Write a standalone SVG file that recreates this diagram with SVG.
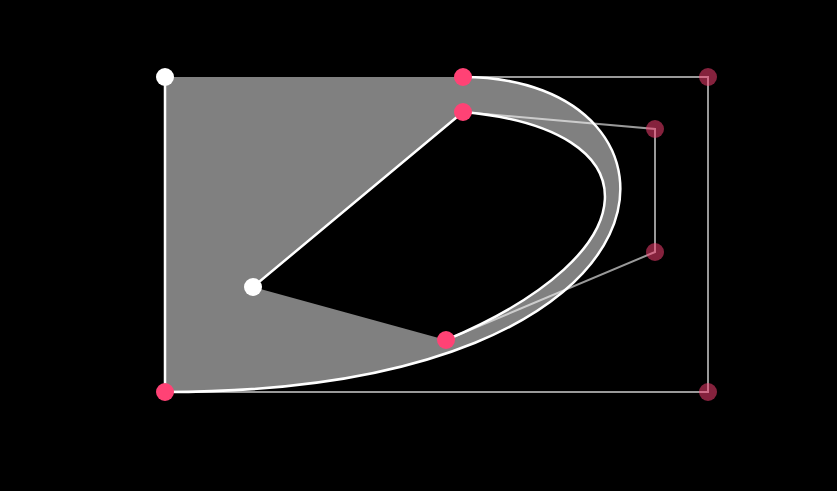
<svg xmlns="http://www.w3.org/2000/svg" width="837" height="491" viewBox="0 0 837 491">
<style>
.ctrl{fill:none;stroke:#fff;stroke-opacity:0.6;stroke-width:2}
.edge{fill:none;stroke:#fff;stroke-width:2.5;stroke-linecap:round}
.pt{fill:#ff4275}
.cp{fill:#ff4275;fill-opacity:0.52}
.wp{fill:#fff}
</style>
<rect width="837" height="491" fill="#000"/>
<g id="shape">
<path d="M165,77 L463,77 C708,77 708,392 165,392 Z M463,112 C655,129 655,252 446,340 L253,287 Z" fill="#808080" fill-rule="evenodd"/>
</g>
<g id="connectors">
<path class="ctrl" d="M463,77 L708,77 L708,392 L165,392"/>
<path class="ctrl" d="M463,112 L655,129 L655,252 L446,340"/>
<path class="edge" d="M463,77 C708,77 708,392 165,392"/>
<path class="edge" d="M463,112 C655,129 655,252 446,340"/>
<path class="edge" d="M165,77 L165,392"/>
<path class="edge" d="M253,287 L463,112"/>
</g>
<g id="points">
<circle id="p-tl" class="wp" cx="165" cy="77" r="9"/>
<circle id="p-center" class="wp" cx="253" cy="287" r="9"/>
<circle id="p-top" class="pt" cx="463" cy="77" r="9"/>
<circle id="p-inner-top" class="pt" cx="463" cy="112" r="9"/>
<circle id="p-inner-bottom" class="pt" cx="446" cy="340" r="9"/>
<circle id="p-bl" class="pt" cx="165" cy="392" r="9"/>
<circle id="c-tr" class="cp" cx="708" cy="77" r="9"/>
<circle id="c-br" class="cp" cx="708" cy="392" r="9"/>
<circle id="c-in1" class="cp" cx="655" cy="129" r="9"/>
<circle id="c-in2" class="cp" cx="655" cy="252" r="9"/>
</g>
</svg>
